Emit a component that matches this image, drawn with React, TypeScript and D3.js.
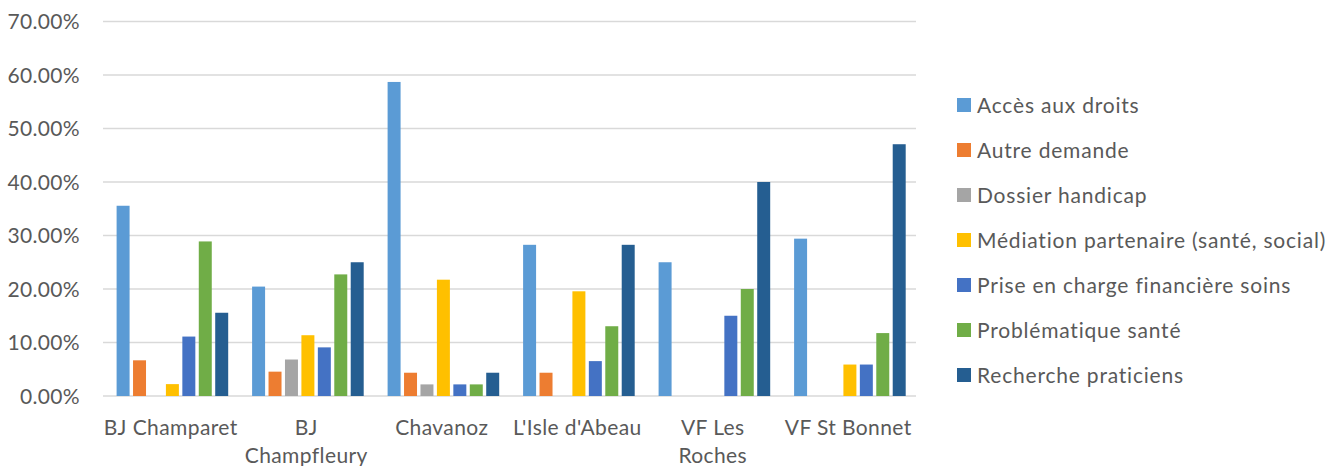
import React from "react";
import * as d3 from "d3";

const categories: string[][] = [
  ["BJ Champaret"],
  ["BJ", "Champfleury"],
  ["Chavanoz"],
  ["L'Isle d'Abeau"],
  ["VF Les", "Roches"],
  ["VF St Bonnet"],
];

const seriesNames: string[] = [
  "Accès aux droits",
  "Autre demande",
  "Dossier handicap",
  "Médiation partenaire (santé, social)",
  "Prise en charge financière soins",
  "Problématique santé",
  "Recherche praticiens",
];

const seriesColors: string[] = [
  "#5B9BD5",
  "#ED7D31",
  "#A5A5A5",
  "#FFC000",
  "#4472C4",
  "#70AD47",
  "#255E91",
];

// values per series, in category order (fractions)
const accesAuxDroits = [0.3556, 0.2045, 0.587, 0.2826, 0.25, 0.2941];
const autreDemande = [0.0667, 0.0455, 0.0435, 0.0435, 0, 0];
const dossierHandicap = [0, 0.0682, 0.0217, 0, 0, 0];
const mediationPartenaire = [0.0222, 0.1136, 0.2174, 0.1957, 0, 0.0588];
const priseEnCharge = [0.1111, 0.0909, 0.0217, 0.0652, 0.15, 0.0588];
const problematiqueSante = [0.2889, 0.2273, 0.0217, 0.1304, 0.2, 0.1176];
const recherchePraticiens = [0.1556, 0.25, 0.0435, 0.2826, 0.4, 0.4706];

const seriesValues: number[][] = [
  accesAuxDroits,
  autreDemande,
  dossierHandicap,
  mediationPartenaire,
  priseEnCharge,
  problematiqueSante,
  recherchePraticiens,
];

const yTicks = [0, 0.1, 0.2, 0.3, 0.4, 0.5, 0.6, 0.7];

const FONT = "Lato, 'Open Sans', sans-serif";
const TEXT = "#595959";

export default function App() {
  const W = 1341;
  const H = 466;
  const plotLeft = 103;
  const plotRight = 916;
  const plotTop = 21.5;
  const plotBottom = 396;

  const y = d3.scaleLinear().domain([0, 0.7]).range([plotBottom, plotTop]);
  const x0 = d3
    .scaleBand<number>()
    .domain(d3.range(categories.length))
    .range([plotLeft, plotRight])
    .paddingInner(0)
    .paddingOuter(0);
  const groupInset = 13.6;
  const x1 = d3
    .scaleBand<number>()
    .domain(d3.range(seriesNames.length))
    .range([groupInset, x0.bandwidth() - groupInset + 3.3])
    .paddingInner(0.21)
    .paddingOuter(0);

  return (
    <svg
      width={W}
      height={H}
      style={{ position: "absolute", left: 0, top: 0, display: "block", background: "#fff" }}
    >
      <rect x={0} y={0} width={W} height={H} fill="#fff" />
      {yTicks.map((t) => (
        <g key={t}>
          <line
            x1={plotLeft}
            x2={plotRight}
            y1={y(t)}
            y2={y(t)}
            stroke="#D9D9D9"
            strokeWidth={1.5}
          />
          <text
            x={80}
            y={y(t)}
            dy="0.36em"
            textAnchor="end"
            fontFamily={FONT}
            fontSize={21}
            letterSpacing={0.35}
            fill={TEXT}
          >
            {(t * 100).toFixed(2) + "%"}
          </text>
        </g>
      ))}
      {seriesValues.map((vals, si) =>
        vals.map((v, ci) =>
          v > 0 ? (
            <rect
              key={si + "-" + ci}
              x={(x0(ci) as number) + (x1(si) as number)}
              y={y(v)}
              width={x1.bandwidth()}
              height={plotBottom - y(v)}
              fill={seriesColors[si]}
            />
          ) : null
        )
      )}
      {categories.map((lines, ci) => (
        <text
          key={ci}
          x={(x0(ci) as number) + x0.bandwidth() / 2}
          y={435}
          textAnchor="middle"
          fontFamily={FONT}
          fontSize={21}
          letterSpacing={0.4}
          fill={TEXT}
        >
          {lines.map((l, li) => (
            <tspan key={li} x={(x0(ci) as number) + x0.bandwidth() / 2} dy={li === 0 ? 0 : 28}>
              {l}
            </tspan>
          ))}
        </text>
      ))}
      {seriesNames.map((name, si) => (
        <g key={name} transform={`translate(957, ${105 + si * 45})`}>
          <rect x={0} y={-7} width={14} height={14} fill={seriesColors[si]} />
          <text
            x={20}
            y={0}
            dy="0.36em"
            fontFamily={FONT}
            fontSize={21}
            letterSpacing={0.8}
            fill={TEXT}
          >
            {name}
          </text>
        </g>
      ))}
    </svg>
  );
}
